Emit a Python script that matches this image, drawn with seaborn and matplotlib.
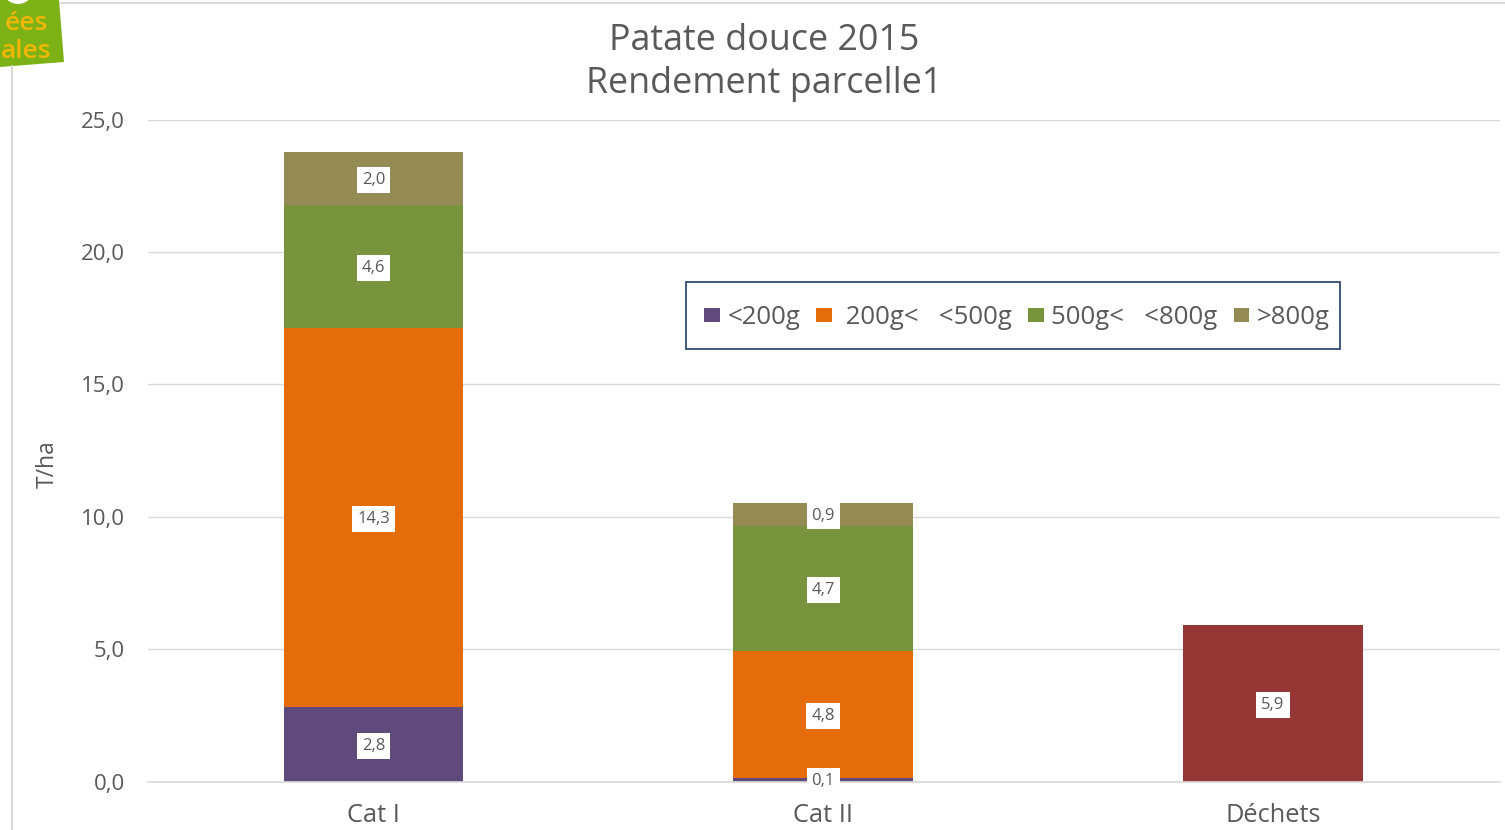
import matplotlib
matplotlib.use('Agg')
import matplotlib.pyplot as plt
import seaborn as sns
import pandas as pd
from matplotlib.lines import Line2D
from matplotlib.patches import Patch, Polygon, Circle, Rectangle

# data
categories = ['Cat I', 'Cat II', 'Déchets']
moins_200 = [2.8, 0.13, 0]
de_200_500 = [14.33, 4.8, 0]
de_500_800 = [4.64, 4.72, 0]
plus_800 = [2.0, 0.87, 0]
dechets = [0, 0, 5.9]
series_names = ['<200g', ' 200g<   <500g', '500g<   <800g', '>800g']
y_ticks = [0, 5, 10, 15, 20, 25]

colors = ['#604A7B', '#E46C0A', '#77933C', '#948A54', '#953735']
text_color = '#595959'

sns.set_theme(style='white')
plt.rcParams['font.family'] = ['Open Sans', 'DejaVu Sans']

df = pd.DataFrame({
    'categorie': categories,
    series_names[0]: moins_200,
    series_names[1]: de_200_500,
    series_names[2]: de_500_800,
    series_names[3]: plus_800,
    'Déchets': dechets,
})

W, H = 1505, 830
fig = plt.figure(figsize=(W / 100, H / 100), dpi=100)
ax = fig.add_axes([148 / W, 1 - 781.5 / H, (1500 - 148) / W, (781.5 - 119.5) / H])

# stacked bars
bottom = [0, 0, 0]
for name, col in zip(df.columns[1:], colors):
    vals = df[name].tolist()
    sns.barplot(data=df, x='categorie', y=name, color=col, width=0.4, bottom=bottom,
                saturation=1, linewidth=0, ax=ax, zorder=2)
    for i, v in enumerate(vals):
        if v > 0:
            ax.annotate(f'{v:.1f}'.replace('.', ','), (i, bottom[i] + v / 2), xytext=(0, -1),
                        textcoords='offset points', ha='center', va='center',
                        fontsize=12, color=text_color, zorder=5, annotation_clip=False,
                        bbox=dict(boxstyle='square,pad=0.3', fc='white', ec='none'))
    bottom = [b + v for b, v in zip(bottom, vals)]

ax.set_xlim(-0.5014, 2.505)
ax.set_ylim(0, 25)
ax.set_yticks(y_ticks)
ax.set_yticklabels([f'{t:.1f}'.replace('.', ',') for t in y_ticks], fontsize=16, color=text_color)
ax.tick_params(axis='x', labelsize=18.3, labelcolor=text_color, length=0, pad=15.7)
ax.tick_params(axis='y', length=0, pad=16.5)
ax.set_xlabel('')
ax.set_ylabel('T/ha', fontsize=16.5, color=text_color)
ax.yaxis.set_label_coords(-0.0655, 0.48)
ax.grid(axis='y', color='#D9D9D9', lw=1)
ax.set_axisbelow(True)
sns.despine(ax=ax, left=True, top=True, right=True)
ax.spines['bottom'].set_color('#D9D9D9')

# title
fig.text(764 / W, 1 - 41 / H, 'Patate douce 2015', ha='center', va='center', fontsize=25.8, color=text_color)
fig.text(764 / W, 1 - 84 / H, 'Rendement parcelle1', ha='center', va='center', fontsize=25.8, color=text_color)

# legend, its frame is drawn apart because the padding is not even
handles = [Patch(fc=c, ec='none') for c in colors[:4]]
leg = ax.legend(handles, series_names, ncol=4, loc='center', frameon=False,
                bbox_to_anchor=((1017 - 148) / 1352, (781.5 - 317.5) / 662), fontsize=18.5,
                labelcolor=text_color, handlelength=0.6, handleheight=0.5, handletextpad=0.3,
                columnspacing=0.62, borderpad=0, borderaxespad=0)
leg.set_zorder(4)
fig.add_artist(Rectangle((686 / W, 1 - 349 / H), 654 / W, 67 / H, fc='none', ec='#2F4B75', lw=1.3,
                         transform=fig.transFigure))

# page border lines and the green tag in the corner
fig.add_artist(Line2D([60 / W, 1], [1 - 3.5 / H] * 2, color='#D9D9D9', lw=1.5))
fig.add_artist(Line2D([12 / W] * 2, [0, 1 - 66 / H], color='#D9D9D9', lw=1.5))
tag_x = [0, 59, 64, 0]
tag_y = [0, 0, 62, 67]
fig.add_artist(Polygon([(x / W, 1 - y / H) for x, y in zip(tag_x, tag_y)], closed=True,
                       fc='#7CB215', ec='none', transform=fig.transFigure))
hole = fig.add_axes([0, 1 - 8 / H, 36 / W, 8 / H])
hole.set_zorder(3)
hole.axis('off')
hole.set_xlim(0, 36)
hole.set_ylim(8, 0)
hole.add_patch(Circle((18, -12), 16, fc='white', ec='none'))
fig.text(26 / W, 1 - 24 / H, 'ées', ha='center', va='center', fontsize=19, color='#F2B705',
         fontweight='semibold', zorder=4)
fig.text(26 / W, 1 - 51 / H, 'ales', ha='center', va='center', fontsize=19, color='#F2B705',
         fontweight='semibold', zorder=4)

fig.savefig('out.png', dpi=100)
